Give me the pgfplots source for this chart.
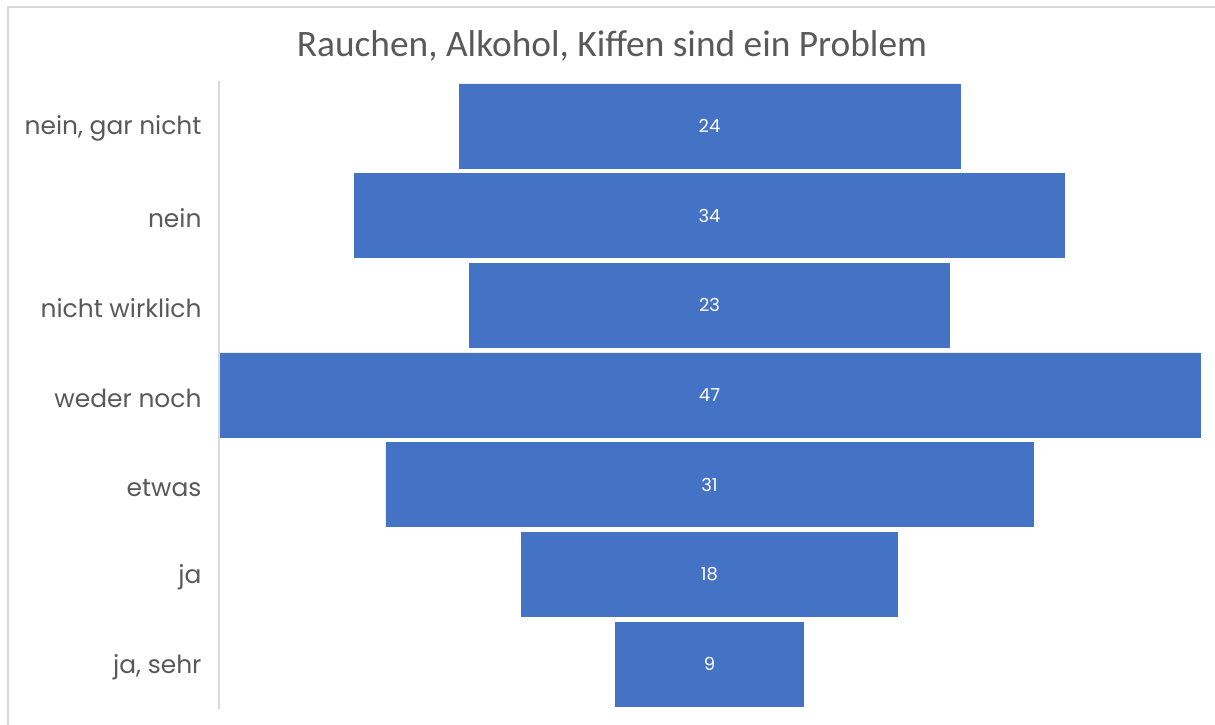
\documentclass[border=0pt]{standalone}
\usepackage{pgfplots}
\pgfplotsset{compat=1.18}
\usepackage{fontspec}
\setmainfont{Carlito}
\newfontfamily\lblfont{Poppins}
\definecolor{barblue}{HTML}{4472C4}
\definecolor{txtgray}{HTML}{595959}
\definecolor{linegray}{HTML}{D9D9D9}
\begin{document}
\begin{tikzpicture}[x=1bp,y=1bp]
\useasboundingbox (0,0) rectangle (1215,725);
\draw[linegray, line width=1.5bp] (8,0) -- (8,718) -- (1215,718);
\node[txtgray, font=\fontsize{37.5}{42}\selectfont] at (612,679) {Rauchen, Alkohol, Kiffen sind ein Problem};
\begin{axis}[
  at={(219bp,16bp)}, anchor=south west,
  scale only axis, width=981bp, height=628bp,
  xmin=-23.5, xmax=23.5,
  ymin=0.5, ymax=7.5, y dir=reverse,
  axis line style={draw=none},
  xtick=\empty,
  ytick={1,2,3,4,5,6,7},
  yticklabels={{nein, gar nicht}, nein, nicht wirklich, weder noch, etwas, ja, {ja, sehr}},
  major tick length=0pt,
  yticklabel style={font=\lblfont\fontsize{25}{28}\selectfont, text=txtgray, anchor=east, xshift=-14bp, yshift=-3bp},
  clip=false,
]
\addplot[xbar, bar width=84bp, bar shift=0pt, fill=barblue, draw=barblue, line width=0.6bp]
  coordinates {(12,1) (17,2) (11.5,3) (23.5,4) (15.5,5) (9,6) (4.5,7)};
\addplot[xbar, bar width=84bp, bar shift=0pt, fill=barblue, draw=barblue, line width=0.6bp]
  coordinates {(-12,1) (-17,2) (-11.5,3) (-23.5,4) (-15.5,5) (-9,6) (-4.5,7)};
\addplot[draw=none, mark=none, nodes near coords, point meta=explicit symbolic,
  nodes near coords align=center,
  every node near coord/.append style={text=white, anchor=center, font=\lblfont\fontsize{18}{21}\selectfont}]
  coordinates {(0,1)[24] (0,2)[34] (0,3)[23] (0,4)[47] (0,5)[31] (0,6)[18] (0,7)[9]};
\draw[linegray, line width=1.5bp] (rel axis cs:0,0) -- (rel axis cs:0,1);
\end{axis}
\end{tikzpicture}
\end{document}
